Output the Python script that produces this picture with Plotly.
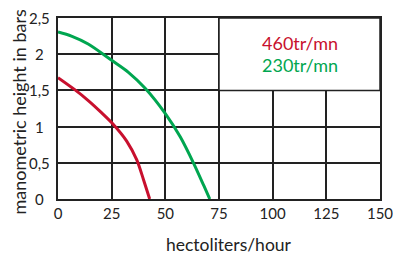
import plotly.graph_objects as go

# Data
red_x = [0, 7.8, 14.1, 20, 25.8, 32, 36.7, 39.8, 42.7]
red_y = [1.676, 1.51, 1.36, 1.2, 1.03, 0.8, 0.54, 0.27, 0]
green_x = [0, 6.25, 14.06, 25, 32.8, 40.6, 50, 57, 63.3, 68, 70.7]
green_y = [2.306, 2.25, 2.14, 1.915, 1.75, 1.53, 1.18, 0.856, 0.486, 0.18, 0]

x_ticks = [0, 25, 50, 75, 100, 125, 150]
x_tick_labels = ["0", "25", "50", "75", "100", "125", "150"]
y_ticks = [0, 0.5, 1, 1.5, 2, 2.5]
y_tick_labels = ["0", "0,5", "1", "1,5", "2", "2,5"]

series_names = ["460tr/mn", "230tr/mn"]
RED = "#c8102e"
GREEN = "#00a650"
INK = "#222222"
FONT = "Lato"

fig = go.Figure()
fig.add_trace(go.Scatter(x=red_x, y=red_y, mode="lines", name=series_names[0],
                         line=dict(color=RED, width=3, shape="spline", smoothing=0.8)))
fig.add_trace(go.Scatter(x=green_x, y=green_y, mode="lines", name=series_names[1],
                         line=dict(color=GREEN, width=3, shape="spline", smoothing=0.8)))

# legend box (covers gridlines)
fig.add_shape(type="rect", xref="x", yref="y", x0=75, x1=150, y0=1.5, y1=2.5,
              fillcolor="white", line=dict(color=INK, width=1.5), layer="above")

fig.add_annotation(x=112.5, y=2.155, xref="x", yref="y", text=series_names[0], showarrow=False,
                   xanchor="center", font=dict(family=FONT, size=18, color=RED))
fig.add_annotation(x=112.5, y=1.85, xref="x", yref="y", text=series_names[1], showarrow=False,
                   xanchor="center", font=dict(family=FONT, size=18, color=GREEN))

# y tick labels centred, as in the reference
for v, t in zip(y_ticks, y_tick_labels):
    fig.add_annotation(x=0, y=v, xref="x", yref="y", text=t, showarrow=False,
                       xanchor="center", yanchor="middle", xshift=-19,
                       font=dict(family=FONT, size=15, color=INK))

# axis titles
fig.add_annotation(x=-0.124, y=0.5, xref="paper", yref="paper", text="manometric height in bars",
                   showarrow=False, textangle=-90, xanchor="center", yanchor="middle",
                   font=dict(family=FONT, size=18, color=INK), yshift=-4)
fig.add_annotation(x=0.53, y=-0.25, xref="paper", yref="paper", text="hectoliters/hour",
                   showarrow=False, xanchor="center", yanchor="middle",
                   font=dict(family=FONT, size=17.5, color=INK))

axis_common = dict(showgrid=True, gridcolor=INK, gridwidth=1.5, showline=True,
                   linecolor=INK, linewidth=1.5, mirror=True, zeroline=False,
                   ticks="", automargin=False,
                   tickfont=dict(family=FONT, size=15, color=INK))

fig.update_xaxes(range=[0, 150], tickvals=x_ticks, ticktext=x_tick_labels,
                 ticklabeloverflow="allow", **axis_common)
fig.update_yaxes(range=[0, 2.5], tickvals=y_ticks, showticklabels=False, **axis_common)

fig.update_layout(width=393, height=255, margin=dict(l=58, r=13, t=18, b=56),
                  paper_bgcolor="white", plot_bgcolor="white", showlegend=False)

fig.write_html("out.html", config={"displayModeBar": False},
               post_script="document.body.style.margin='0';")
